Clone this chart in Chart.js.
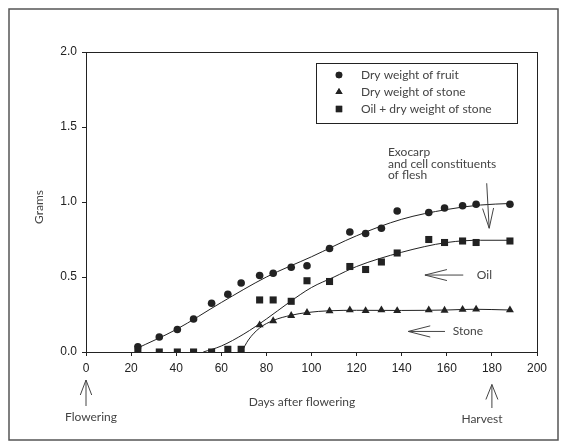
<!DOCTYPE html>
<html>
<head>
<meta charset="utf-8">
<script src="https://cdn.jsdelivr.net/npm/chart.js@4.4.1/dist/chart.umd.min.js"></script>
<style>
html,body{margin:0;padding:0;background:#fff;}
#wrap{position:relative;width:569px;height:442px;}
</style>
</head>
<body>
<div id="wrap"><canvas id="myChart" width="569" height="442"></canvas></div>
<script>
// measured points
const fruitDays=[23,32.5,40.5,47.7,55.7,62.9,68.8,77,83,91,98,108,117,124,131,138,152,159,167,173,188];
const fruitWeight=[0.035,0.10,0.15,0.22,0.325,0.385,0.46,0.51,0.525,0.565,0.575,0.69,0.80,0.79,0.825,0.94,0.93,0.96,0.975,0.985,0.985];
const oilDays=[23,32.5,40.5,47.7,55.7,62.9,68.8,77,83,91,98,108,117,124,131,138,152,159,167,173,188];
const oilWeight=[0,0,0,0,0,0.018,0.018,0.347,0.347,0.338,0.475,0.47,0.57,0.55,0.60,0.66,0.75,0.73,0.74,0.73,0.74];
const stoneDays=[77,83,91,98,108,117,124,131,138,152,159,167,173,188];
const stoneWeight=[0.18,0.207,0.242,0.262,0.273,0.28,0.275,0.28,0.275,0.28,0.277,0.283,0.285,0.28];

// fitted curves
const fruitFitDays=[22,40,60,80,100,120,140,160,175,188];
const fruitFitWeight=[0.02,0.15,0.33,0.50,0.635,0.775,0.885,0.95,0.98,0.99];
const oilFitDays=[52,60,70,80,90,100,110,120,140,160,175,188];
const oilFitWeight=[0,0.04,0.12,0.22,0.33,0.43,0.50,0.57,0.665,0.73,0.745,0.745];
const stoneFitDays=[69,72,77,83,91,98,108,120,140,160,172,188];
const stoneFitWeight=[0,0.08,0.16,0.21,0.245,0.263,0.275,0.278,0.277,0.28,0.285,0.28];

const seriesLabels=["Dry weight of fruit","Dry weight of stone","Oil + dry weight of stone"];
const xTitle="Days after flowering";
const yTitle="Grams";

const ink="#222";
const textInk="#444";
const annFont="12px Lato, 'Open Sans', sans-serif";

function pts(xs,ys){
    return xs.map((x,i)=>({x:x,y:ys[i]}));
}
function fitLine(xs,ys){
    return {data:pts(xs,ys),showLine:true,pointRadius:0,borderColor:ink,borderWidth:1,
        cubicInterpolationMode:"monotone",fill:false,order:5};
}

function arrow(ctx,x1,y1,x2,y2,len,half){
    // tail (x1,y1) -> tip (x2,y2)
    let a=Math.atan2(y2-y1,x2-x1);
    let bx=x2-Math.cos(a)*len, by=y2-Math.sin(a)*len;
    let nx=-Math.sin(a)*half, ny=Math.cos(a)*half;
    ctx.beginPath();
    ctx.moveTo(x1,y1);ctx.lineTo(x2,y2);
    ctx.moveTo(bx+nx,by+ny);ctx.lineTo(x2,y2);ctx.lineTo(bx-nx,by-ny);
    ctx.stroke();
}

const extras={
    id:"extras",
    beforeDraw(chart){
        const ctx=chart.ctx;
        ctx.save();
        ctx.fillStyle="#fff";
        ctx.fillRect(0,0,chart.width,chart.height);
        ctx.strokeStyle="#555";
        ctx.lineWidth=1.5;
        ctx.strokeRect(9,9,549,431);
        ctx.restore();
    },
    afterDraw(chart){
        const ctx=chart.ctx;
        const a=chart.chartArea;
        const xs=chart.scales.x, ys=chart.scales.y;
        const px=v=>xs.getPixelForValue(v);
        const py=v=>ys.getPixelForValue(v);
        ctx.save();
        // plot box
        ctx.strokeStyle=ink;ctx.lineWidth=1;
        ctx.strokeRect(Math.round(a.left)+0.5,Math.round(a.top)+0.5,Math.round(a.right-a.left),Math.round(a.bottom-a.top));

        // legend
        ctx.strokeRect(316.5,63.5,201,60);
        const ds=chart.data.datasets;
        const rows=[75,92,109];
        ctx.font=annFont;ctx.textBaseline="middle";ctx.textAlign="left";
        for(let i=0;i<3;i++){
            ctx.fillStyle=ink;
            Chart.helpers.drawPoint(ctx,{pointStyle:ds[i].pointStyle,radius:ds[i].pointRadius-0.5,rotation:0,borderWidth:0},339,rows[i]);
            ctx.fill();
            ctx.fillStyle=textInk;
            ctx.fillText(ds[i].label,361,rows[i]);
        }

        // in-plot notes
        ctx.strokeStyle=textInk;ctx.fillStyle=textInk;ctx.lineWidth=1;
        ctx.fillText("Exocarp",px(133.9),152);
        ctx.fillText("and cell constituents",px(133.9),164);
        ctx.fillText("of flesh",px(133.9),175);
        arrow(ctx,px(177.7),py(1.125),px(178.8),py(0.825),20,5.5);
        arrow(ctx,px(167.3),py(0.513),px(150.3),py(0.513),22,5.5);
        ctx.fillText("Oil",px(173.3),py(0.513));
        arrow(ctx,px(159.2),py(0.137),px(142.9),py(0.137),22,5.6);
        ctx.fillText("Stone",px(162.6),py(0.137));

        // below the axis
        const b=a.bottom;
        arrow(ctx,px(0),b+54,px(0),b+28,15,5.7);
        arrow(ctx,px(180),b+56,px(180),b+32.5,15,6);
        ctx.textAlign="center";
        ctx.fillText("Flowering",91,b+65);
        ctx.fillText("Harvest",482,b+67);
        ctx.fillText(xTitle,302,b+50);

        ctx.translate(39,207);
        ctx.rotate(-Math.PI/2);
        ctx.fillText(yTitle,0,0);
        ctx.restore();
    }
};

new Chart("myChart",{
    type:"scatter",
    data:{
        datasets:[
            {label:seriesLabels[0],data:pts(fruitDays,fruitWeight),pointStyle:"circle",pointRadius:3.8,
             backgroundColor:ink,borderWidth:0,order:1},
            {label:seriesLabels[1],data:pts(stoneDays,stoneWeight),pointStyle:"triangle",pointRadius:4.6,
             backgroundColor:ink,borderWidth:0,order:2},
            {label:seriesLabels[2],data:pts(oilDays,oilWeight),pointStyle:"rect",pointRadius:5,
             backgroundColor:ink,borderWidth:0,order:3},
            fitLine(fruitFitDays,fruitFitWeight),
            fitLine(oilFitDays,oilFitWeight),
            fitLine(stoneFitDays,stoneFitWeight)
        ]
    },
    options:{
        responsive:false,
        animation:false,
        events:[],
        layout:{padding:{left:0,top:52,right:32,bottom:0}},
        plugins:{legend:{display:false},tooltip:{enabled:false}},
        scales:{
            x:{
                type:"linear",min:0,max:200,
                grid:{drawOnChartArea:false,tickLength:4,color:ink},
                border:{display:true,color:ink},
                ticks:{stepSize:20,padding:5,color:ink,font:{family:"'Liberation Sans', Arial, sans-serif",size:12}},
                afterFit(s){s.height=90;}
            },
            y:{
                min:0,max:2,
                grid:{drawOnChartArea:false,tickLength:4,color:ink},
                border:{display:true,color:ink},
                ticks:{stepSize:0.5,padding:5,color:ink,font:{family:"'Liberation Sans', Arial, sans-serif",size:12},
                    callback:v=>v.toFixed(1)},
                afterFit(s){s.width=86;}
            }
        }
    },
    plugins:[extras]
});
</script>
</body>
</html>
